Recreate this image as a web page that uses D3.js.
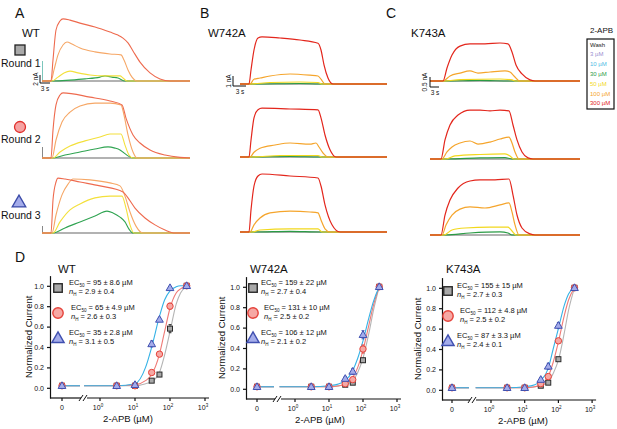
<!DOCTYPE html>
<html>
<head>
<meta charset="utf-8">
<script src="https://cdn.jsdelivr.net/npm/d3@7"></script>
<style>
body{margin:0;background:#fff}
svg{display:block;font-family:Arial,"Liberation Sans",sans-serif}
</style>
</head>
<body>
<svg id="fig" width="617" height="429"></svg>
<script>

/// Current traces, [time (s), current (nA)]

var wtRound1 = {
	c300: [[0,0],[2.7,0],[3.3,7],[4.2,17],[5.4,20],[6.3,20.7],[8.4,20.3],[11.4,19.3],[15.9,18],[20.4,16.3],[22.8,15.3],[24.3,14.3],[25.8,12.7],[27.3,10],[29.4,6.3],[32.4,2.7],[35.4,0.7],[38.4,0],[44.4,0]],
	c100: [[0,0],[2.7,0],[3.6,3.7],[4.8,8.7],[6.3,12],[7.5,13],[9,12.3],[11.4,11],[15.9,9.7],[20.4,9],[23.7,8.7],[24.6,7],[25.8,3.7],[27,1.3],[28.5,0],[44.4,0]],
	c50:  [[0,0],[3,0],[4.8,1.3],[6.6,2.7],[8.4,3.3],[10.8,2.7],[14.4,2],[18.9,1.7],[23.4,1.7],[24.3,1],[25.5,0],[44.4,0]],
	c30:  [[0,0],[3.6,0],[8.4,0.3],[12.9,0.7],[17.4,1.3],[18.9,1.7],[21,1.3],[22.8,1],[24.9,0],[44.4,0]]
};
var wtRound2 = {
	c300: [[0,0],[2.7,0],[3.3,9.3],[4.2,17.7],[5.4,21],[6.3,21.7],[14.4,20.3],[20.4,19],[24,17.7],[25.2,13.3],[27.3,7.7],[29.4,5],[32.4,2.7],[36.9,1],[41.4,0.2],[44.4,0]],
	c100: [[0,0],[3,0],[4.2,6],[6,12],[8.4,15.3],[11.4,17.3],[15.9,18.3],[20.4,18.3],[23.7,17.7],[24.6,14.3],[25.8,7.7],[27.3,2],[28.5,0],[44.4,0]],
	c50:  [[0,0],[3.3,0],[5.4,2],[8.4,4],[12.9,5.7],[17.4,7],[20.4,8],[23.7,8],[24.9,4.3],[26.1,1],[27.3,0],[44.4,0]],
	c30:  [[0,0],[3.3,0],[6.9,1],[11.4,2],[15.9,3],[19.8,3.7],[21.9,3.3],[23.4,2.7],[24.6,1.7],[25.8,0.7],[27.3,0],[44.4,0]]
};
var wtRound3 = {
	c300: [[0,0],[2.7,0],[3.3,11],[4.2,17],[4.8,18.3],[6.9,18],[11.4,17],[17.4,15.7],[24.3,13.7],[25.8,11.7],[27.9,8.3],[30.9,5],[33.9,2.7],[36.9,1],[39.9,0],[44.4,0]],
	c100: [[0,0],[3,0],[4.2,6],[6,12.7],[7.8,16.3],[9.3,18],[14.4,17.7],[20.4,16.7],[23.4,15.7],[24.9,12.3],[26.4,7],[28.2,2.3],[30.3,0],[44.4,0]],
	c50:  [[0,0],[3.3,0],[5.4,3.7],[8.4,7.7],[11.4,9.7],[15.9,11.7],[20.4,12.3],[24,12.3],[25.2,8.3],[26.4,2.7],[27.6,0],[44.4,0]],
	c30:  [[0,0],[3.3,0],[6.9,1.7],[11.4,3.7],[15.9,5.7],[19.5,7.3],[21.3,6.7],[23.4,5.3],[24.9,3.7],[26.1,1.3],[27.3,0],[44.4,0]]
};

var w742Round1 = {
	c300: [[0,0],[2.7,0],[3.3,1.75],[4.2,4.25],[5.4,5.75],[6.6,5.9],[12,5.75],[18,5.5],[23.4,5.1],[24.3,4.25],[25.2,2.4],[26.4,0.75],[27.9,0],[44.1,0]],
	c100: [[0,0],[3,0],[4.2,0.6],[6,0.75],[9,1],[15,1.25],[21,1.1],[23.4,1],[24.3,0.6],[25.5,0],[44.1,0]],
	c50:  [[0,0],[3,0],[9,0.19],[18,0.25],[23.4,0.19],[24.6,0],[44.1,0]],
	c30:  [[0,0],[4.5,0],[18,0.06],[24,0],[44.1,0]]
};
var w742Round2 = {
	c300: [[0,0],[2.7,0],[3.3,2.1],[4.2,4.9],[5.4,5.9],[6.6,6.1],[15,6],[23.4,5.9],[24.3,4.9],[25.5,2.75],[27,0.9],[28.8,0],[44.1,0]],
	c100: [[0,0],[3,0],[4.2,0.6],[6,1.1],[10.5,1.5],[15,1.75],[21,1.6],[22.8,1.75],[23.7,1.25],[24.9,0.5],[26.4,0],[44.1,0]],
	c50:  [[0,0],[3.6,0],[12,0.19],[23.4,0.19],[24.6,0],[44.1,0]],
	c30:  [[0,0],[4.5,0],[15,0.06],[24,0],[44.1,0]]
};
var w742Round3 = {
	c300: [[0,0],[2.7,0],[3.3,2.75],[4.2,5.75],[5.4,7],[6.6,7.25],[15,7],[23.4,6.75],[24.3,5.75],[25.5,3.4],[27.6,0.9],[30,0],[44.1,0]],
	c100: [[0,0],[3,0],[4.2,0.9],[6,1.75],[9,2.4],[15,2.6],[21,2.5],[23.4,2.4],[24.3,1.5],[25.5,0.4],[27,0],[44.1,0]],
	c50:  [[0,0],[3.6,0],[6,0.25],[15,0.4],[23.4,0.4],[24.6,0],[44.1,0]],
	c30:  [[0,0],[4.5,0],[15,0.08],[24,0],[44.1,0]]
};

var k743Round1 = {
	c300: [[0,0],[3.9,0],[5.1,0.72],[6.6,1.44],[9,1.94],[12,2.06],[16.5,2.06],[21,2.11],[23.4,2.06],[24.6,1.61],[25.8,0.89],[27.6,0.39],[30,0.06],[31.5,0],[45,0]],
	c100: [[0,0],[3.9,0],[6,0.28],[9,0.44],[12,0.56],[14.4,0.44],[18,0.5],[22.5,0.56],[24,0.5],[25.2,0.28],[27,0],[45,0]],
	c50:  [[0,0],[4.5,0],[9,0.08],[21,0.11],[24.6,0.06],[25.8,0],[45,0]],
	c30:  [[0,0],[4.5,0],[15,0.03],[24,0],[45,0]]
};
var k743Round2 = {
	c300: [[0,0],[3.3,0],[4.5,1.06],[6,1.89],[8.4,2.44],[12,2.72],[15,2.72],[18,2.67],[21,2.72],[23.7,2.67],[24.9,1.89],[26.1,1.06],[27.6,0.39],[29.4,0.06],[30.9,0],[45,0]],
	c100: [[0,0],[3.6,0],[5.1,0.39],[6.6,0.67],[9,0.89],[12,1],[14.4,0.83],[18,0.94],[21,1.11],[23.7,1.22],[24.6,0.89],[25.5,0.39],[26.7,0],[45,0]],
	c50:  [[0,0],[4.5,0],[7.5,0.17],[15,0.25],[22.5,0.28],[24,0.17],[25.2,0],[45,0]],
	c30:  [[0,0],[5.1,0],[15,0.06],[22.5,0.08],[24.6,0],[45,0]]
};
var k743Round3 = {
	c300: [[0,0],[3.3,0],[4.5,1.11],[6,1.94],[8.4,2.61],[12,3],[15,3.06],[19.5,3.06],[23.7,3.11],[24.9,2.22],[26.1,1.11],[27.6,0.39],[30,0.06],[31.5,0],[45,0]],
	c100: [[0,0],[3.6,0],[4.8,0.56],[6.6,1.11],[9,1.44],[12,1.56],[16.5,1.5],[21,1.67],[23.7,1.78],[24.6,1.28],[25.5,0.56],[26.7,0],[45,0]],
	c50:  [[0,0],[4.2,0],[6.6,0.28],[10.5,0.39],[18,0.44],[23.4,0.44],[24.6,0.22],[25.8,0],[45,0]],
	c30:  [[0,0],[4.8,0],[12,0.11],[21,0.17],[23.4,0.11],[24.6,0],[45,0]]
};

var legendLabels = ["Wash", "3 \u00b5M", "10 \u00b5M", "30 \u00b5M", "50 \u00b5M", "100 \u00b5M", "300 \u00b5M"];
var legendColors = ["#222222", "#9a8fd0", "#4dbbe4", "#2a9b45", "#f2d81c", "#f5a52c", "#e3261c"];


/// Dose-response data

var concs = [0, 3, 10, 30, 50, 100, 300];
var fitConcs = [0.35, 1, 3, 10, 20, 30, 50, 70, 100, 150, 200, 300];

var wtSquare   = [0.02, 0.02, 0.02, 0.07, 0.13, 0.58, 1.0];
var wtCircle   = [0.02, 0.02, 0.02, 0.15, 0.33, 0.80, 1.0];
var wtTriangle = [0.02, 0.02, 0.03, 0.43, 0.67, 0.98, 1.0];
var wtSquareErr   = [0, 0, 0, 0.01, 0.02, 0.04, 0];
var wtCircleErr   = [0, 0, 0, 0.02, 0.02, 0.03, 0];
var wtTriangleErr = [0, 0, 0.01, 0.03, 0.02, 0.01, 0];
var wtFitSquare   = [0.02, 0.02, 0.02, 0.02, 0.04, 0.06, 0.15, 0.32, 0.55, 0.82, 0.93, 0.99];
var wtFitCircle   = [0.02, 0.02, 0.02, 0.03, 0.07, 0.13, 0.33, 0.55, 0.78, 0.93, 0.97, 1.0];
var wtFitTriangle = [0.02, 0.02, 0.02, 0.04, 0.20, 0.40, 0.70, 0.86, 0.95, 0.99, 1.0, 1.0];
var wtStats = [["95 \u00b1 8.6", "2.9 \u00b1 0.4"], ["65 \u00b1 4.9", "2.6 \u00b1 0.3"], ["35 \u00b1 2.8", "3.1 \u00b1 0.5"]];

var w742Square   = [0.02, 0.02, 0.02, 0.04, 0.06, 0.28, 1.0];
var w742Circle   = [0.02, 0.02, 0.02, 0.05, 0.09, 0.39, 1.0];
var w742Triangle = [0.02, 0.02, 0.02, 0.10, 0.17, 0.53, 1.0];
var w742SquareErr   = [0, 0, 0, 0.01, 0.01, 0.02, 0];
var w742CircleErr   = [0, 0, 0, 0.01, 0.02, 0.04, 0];
var w742TriangleErr = [0, 0, 0, 0.02, 0.03, 0.04, 0];
var w742FitSquare   = [0.02, 0.02, 0.02, 0.02, 0.03, 0.04, 0.08, 0.16, 0.30, 0.55, 0.76, 1.0];
var w742FitCircle   = [0.02, 0.02, 0.02, 0.02, 0.03, 0.05, 0.11, 0.21, 0.38, 0.63, 0.81, 1.0];
var w742FitTriangle = [0.02, 0.02, 0.02, 0.03, 0.05, 0.08, 0.18, 0.30, 0.47, 0.70, 0.85, 1.0];
var w742Stats = [["159 \u00b1 22", "2.7 \u00b1 0.4"], ["131 \u00b1 10", "2.5 \u00b1 0.2"], ["106 \u00b1 12", "2.1 \u00b1 0.2"]];

var k743Square   = [0.02, 0.02, 0.02, 0.04, 0.07, 0.30, 1.0];
var k743Circle   = [0.02, 0.02, 0.02, 0.06, 0.13, 0.48, 1.0];
var k743Triangle = [0.02, 0.02, 0.02, 0.10, 0.23, 0.63, 1.0];
var k743SquareErr   = [0, 0, 0, 0.01, 0.01, 0.01, 0];
var k743CircleErr   = [0, 0, 0, 0.01, 0.02, 0.02, 0];
var k743TriangleErr = [0, 0, 0, 0.02, 0.03, 0.03, 0];
var k743FitSquare   = [0.02, 0.02, 0.02, 0.02, 0.03, 0.04, 0.08, 0.16, 0.29, 0.56, 0.78, 1.0];
var k743FitCircle   = [0.02, 0.02, 0.02, 0.02, 0.03, 0.05, 0.13, 0.27, 0.47, 0.73, 0.88, 1.0];
var k743FitTriangle = [0.02, 0.02, 0.02, 0.03, 0.05, 0.09, 0.21, 0.40, 0.60, 0.83, 0.94, 1.0];
var k743Stats = [["155 \u00b1 15", "2.7 \u00b1 0.3"], ["112 \u00b1 4.8", "2.5 \u00b1 0.2"], ["87 \u00b1 3.3", "2.4 \u00b1 0.1"]];

var xTickExps = [0, 1, 2, 3];
var yTicks = [0, 0.2, 0.4, 0.6, 0.8, 1.0];


var svg = d3.select("#fig");

function txt(x, y, s, size, anchor){
	return svg.append("text").attr("x", x).attr("y", y).attr("font-size", size)
		.attr("text-anchor", anchor || "start").attr("fill", "#111").text(s);
}


/// Panel letters and row labels

txt(15, 18, "A", 14);
txt(200, 18, "B", 14);
txt(386, 18, "C", 14);
txt(22, 37, "WT", 11.5);
txt(208, 37, "W742A", 11.5);
txt(411, 37, "K743A", 11.5);

svg.append("rect").attr("x", 15).attr("y", 45).attr("width", 10).attr("height", 10)
	.attr("fill", "#a9a9a9").attr("stroke", "#222").attr("stroke-width", 1.3);
txt(1, 67, "Round 1", 10.5);
svg.append("circle").attr("cx", 20).attr("cy", 127).attr("r", 5.5)
	.attr("fill", "#f5a3a3").attr("stroke", "#e0302c").attr("stroke-width", 1.3);
txt(1, 143, "Round 2", 10.5);
svg.append("path").attr("d", d3.symbol(d3.symbolTriangle, 80)()).attr("transform", "translate(19,203)")
	.attr("fill", "#a4acea").attr("stroke", "#3a4aa8").attr("stroke-width", 1.3);
txt(1, 219, "Round 3", 10.5);


/// Traces

function drawTraces(rows, x0, width, tEnd, pxPerNA, baselines, cols, sw){
	var x = d3.scaleLinear().domain([0, tEnd]).range([x0, x0 + width]);
	rows.forEach(function(row, i){
		var base = baselines[i];
		var y = d3.scaleLinear().domain([0, 1]).range([base, base - pxPerNA]);
		var line = d3.line().x(function(d){return x(d[0]);}).y(function(d){return y(d[1]);}).curve(d3.curveMonotoneX);
		var flat = [[0,0],[tEnd,0]];
		svg.append("path").attr("d", line(flat)).attr("fill", "none").attr("stroke", "#666").attr("stroke-width", 1.2);
		[["c30", cols[3]], ["c50", cols[4]], ["c100", cols[5]], ["c300", cols[6]]].forEach(function(k){
			svg.append("path").attr("d", line(row[k[0]])).attr("fill", "none")
				.attr("stroke", k[1]).attr("stroke-width", sw);
		});
	});
}

var colsA = ["#222", "#9a8fd0", "#4dbbe4", "#30a452", "#f3e03c", "#f6a766", "#ee6a4e"];
var colsBC = ["#222", "#9a8fd0", "#4dbbe4", "#2a9b45", "#f2d81c", "#f5a52c", "#e3261c"];

// small stubs at trace start
svg.append("line").attr("x1", 42.5).attr("x2", 42.5).attr("y1", 61).attr("y2", 81).attr("stroke", "#7cc6bb").attr("stroke-width", 1);
svg.append("line").attr("x1", 42.5).attr("x2", 42.5).attr("y1", 147).attr("y2", 158).attr("stroke", "#888").attr("stroke-width", 1);
svg.append("line").attr("x1", 42.5).attr("x2", 42.5).attr("y1", 226).attr("y2", 233).attr("stroke", "#888").attr("stroke-width", 1);

drawTraces([wtRound1, wtRound2, wtRound3], 42, 148, 44.4, 3, [81, 158, 233], colsA, 1.1);
drawTraces([w742Round1, w742Round2, w742Round3], 240, 147, 44.1, 8, [84, 157, 232], colsBC, 1.2);
drawTraces([k743Round1, k743Round2, k743Round3], 430, 150, 45, 18, [81, 159, 235], colsBC, 1.2);

// scale bars
function scaleBar(x, yTop, yBot, xEnd, label, lx, tx, ty){
	svg.append("path").attr("d", "M" + x + "," + yTop + "V" + yBot + "H" + xEnd)
		.attr("fill", "none").attr("stroke", "#111").attr("stroke-width", 1);
	svg.append("text").attr("transform", "translate(" + lx + "," + ((yTop + yBot) / 2) + ") rotate(-90)")
		.attr("text-anchor", "middle").attr("font-size", 6.5).attr("fill", "#111").text(label);
	txt(tx, ty, "3 s", 6.5, "middle");
}
scaleBar(40, 75, 83, 50, "2 nA", 38, 45, 91);
scaleBar(233, 76, 86, 246, "1 nA", 231, 240, 94);
scaleBar(430, 77, 87, 439, "0.5 nA", 427, 435, 95);

// legend
txt(590, 33, "2-APB", 8);
svg.append("rect").attr("x", 587).attr("y", 39).attr("width", 27).attr("height", 70)
	.attr("fill", "none").attr("stroke", "#111").attr("stroke-width", 1.2);
legendLabels.forEach(function(l, i){
	svg.append("text").attr("x", 590).attr("y", 46.5 + i * 9.8).attr("font-size", 6)
		.attr("fill", legendColors[i]).text(l);
});


/// Dose-response panels

txt(15, 262, "D", 14);

var markColors = {
	sq: {fill: "#a9a9a9", stroke: "#2a2a2a", fit: "#b4b4b4"},
	ci: {fill: "#f6a8a4", stroke: "#e5423a", fit: "#ef7a76"},
	tr: {fill: "#a4acea", stroke: "#4050b0", fit: "#35b2e6"}
};

function marker(g, kind, cx, cy, big){
	var c = markColors[kind];
	var sw = big ? 1.4 : 1;
	if(kind == "sq"){
		var s = big ? 8.5 : 5;
		g.append("rect").attr("x", cx - s/2).attr("y", cy - s/2).attr("width", s).attr("height", s)
			.attr("fill", c.fill).attr("stroke", c.stroke).attr("stroke-width", sw);
	}
	else if(kind == "ci"){
		g.append("circle").attr("cx", cx).attr("cy", cy).attr("r", big ? 5.2 : 3.2)
			.attr("fill", c.fill).attr("stroke", c.stroke).attr("stroke-width", sw);
	}
	else{
		g.append("path").attr("d", d3.symbol(d3.symbolTriangle, big ? 65 : 26)())
			.attr("transform", "translate(" + cx + "," + (cy + (big ? 1 : 0.5)) + ")")
			.attr("fill", c.fill).attr("stroke", c.stroke).attr("stroke-width", sw);
	}
}

function drawDose(p){
	var g = svg.append("g");
	var y = d3.scaleLinear().domain([-0.1, 1.1]).range([p.axisY, p.axisY - 122.4]);
	var xl = d3.scaleLog().domain([1, 1000]).range([p.x1, p.x1 + 3 * p.decade]);
	var xp = function(c){ return c == 0 ? p.xZero : xl(c); };
	var axisEnd = p.x1 + 3 * p.decade + 4;

	// y axis
	var ya = g.append("g").attr("transform", "translate(" + p.yAxisX + ",0)")
		.call(d3.axisLeft(y).tickValues(yTicks).tickFormat(d3.format(".1f")).tickSize(3).tickSizeOuter(0));
	ya.selectAll("text").attr("font-size", 7).attr("fill", "#111");
	ya.selectAll("line, path").attr("stroke", "#111").attr("stroke-width", 1.2);
	ya.attr("font-family", null);

	// x axis with break
	g.append("line").attr("x1", p.yAxisX).attr("x2", p.breakX - 2).attr("y1", p.axisY).attr("y2", p.axisY)
		.attr("stroke", "#111").attr("stroke-width", 1.2);
	g.append("line").attr("x1", p.breakX + 4).attr("x2", axisEnd).attr("y1", p.axisY).attr("y2", p.axisY)
		.attr("stroke", "#111").attr("stroke-width", 1.2);
	[p.breakX - 2, p.breakX + 2].forEach(function(bx){
		g.append("line").attr("x1", bx - 2).attr("x2", bx + 2).attr("y1", p.axisY + 3).attr("y2", p.axisY - 3)
			.attr("stroke", "#111").attr("stroke-width", 1);
	});
	var tickXs = [p.xZero].concat(xTickExps.map(function(e){ return xl(Math.pow(10, e)); }));
	tickXs.forEach(function(tx){
		g.append("line").attr("x1", tx).attr("x2", tx).attr("y1", p.axisY).attr("y2", p.axisY + 3)
			.attr("stroke", "#111").attr("stroke-width", 1.2);
	});
	g.append("text").attr("x", p.xZero).attr("y", p.axisY + 12).attr("font-size", 7)
		.attr("text-anchor", "middle").attr("fill", "#111").text("0");
	xTickExps.forEach(function(e){
		var t = g.append("text").attr("x", xl(Math.pow(10, e)) - 2).attr("y", p.axisY + 12)
			.attr("font-size", 7).attr("text-anchor", "middle").attr("fill", "#111");
		t.append("tspan").text("10");
		t.append("tspan").attr("font-size", 4.5).attr("dy", -3).text(e);
	});

	// axis titles
	g.append("text").attr("x", p.titleCx).attr("y", p.axisY + 24).attr("font-size", 9.5)
		.attr("text-anchor", "middle").attr("fill", "#111").text("2-APB (\u00b5M)");
	g.append("text").attr("transform", "translate(" + p.yTitleX + "," + y(0.5) + ") rotate(-90)")
		.attr("font-size", 9.5).attr("text-anchor", "middle").attr("fill", "#111").text("Normalized Current");
	g.append("text").attr("x", p.nameX).attr("y", 273).attr("font-size", 11.5).attr("fill", "#111").text(p.name);

	// fit curves
	var fitLine = d3.line().x(function(d){ return xl(d[0]); }).y(function(d){ return y(d[1]); }).curve(d3.curveMonotoneX);
	[["sq", p.fits[0]], ["ci", p.fits[1]], ["tr", p.fits[2]]].forEach(function(f){
		g.append("line").attr("x1", p.xZero).attr("x2", p.breakX - 3).attr("y1", y(f[1][0])).attr("y2", y(f[1][0]))
			.attr("stroke", markColors[f[0]].fit).attr("stroke-width", 1.1);
		g.append("path").attr("d", fitLine(fitConcs.map(function(c, i){ return [c, f[1][i]]; })))
			.attr("fill", "none").attr("stroke", markColors[f[0]].fit).attr("stroke-width", 1.1);
	});

	// error bars and points
	[["sq", p.pts[0], p.errs[0]], ["ci", p.pts[1], p.errs[1]], ["tr", p.pts[2], p.errs[2]]].forEach(function(s){
		concs.forEach(function(c, i){
			if(s[2][i] > 0){
				var cx = xp(c);
				g.append("line").attr("x1", cx).attr("x2", cx).attr("y1", y(s[1][i] - s[2][i])).attr("y2", y(s[1][i] + s[2][i]))
					.attr("stroke", markColors[s[0]].stroke).attr("stroke-width", 0.9);
				[s[1][i] - s[2][i], s[1][i] + s[2][i]].forEach(function(v){
					g.append("line").attr("x1", cx - 1.5).attr("x2", cx + 1.5).attr("y1", y(v)).attr("y2", y(v))
						.attr("stroke", markColors[s[0]].stroke).attr("stroke-width", 0.9);
				});
			}
		});
	});
	["sq", "ci", "tr"].forEach(function(kind, k){
		concs.forEach(function(c, i){ marker(g, kind, xp(c), y(p.pts[k][i]), false); });
	});

	// legend with fit parameters
	["sq", "ci", "tr"].forEach(function(kind, k){
		marker(g, kind, p.legX, p.legY[k], true);
		var t1 = g.append("text").attr("x", p.textX[k]).attr("y", p.legY[k] - 3).attr("font-size", 7.5).attr("fill", "#111");
		t1.append("tspan").text("EC");
		t1.append("tspan").attr("font-size", 4.5).attr("dy", 1.5).text("50");
		t1.append("tspan").attr("dy", -1.5).text(" = " + p.stats[k][0] + " \u00b5M");
		var t2 = g.append("text").attr("x", p.textX[k]).attr("y", p.legY[k] + 6).attr("font-size", 7.5).attr("fill", "#111");
		t2.append("tspan").attr("font-style", "italic").text("n");
		t2.append("tspan").attr("font-size", 4.5).attr("dy", 1.5).text("H");
		t2.append("tspan").attr("dy", -1.5).text(" = " + p.stats[k][1]);
	});
}

drawDose({
	name: "WT", nameX: 58, yAxisX: 50, axisY: 398, xZero: 62, breakX: 83, x1: 100, decade: 35,
	titleCx: 128, yTitleX: 32, legX: 58, legY: [288, 313, 338], textX: [69, 71, 69],
	pts: [wtSquare, wtCircle, wtTriangle], errs: [wtSquareErr, wtCircleErr, wtTriangleErr],
	fits: [wtFitSquare, wtFitCircle, wtFitTriangle], stats: wtStats
});
drawDose({
	name: "W742A", nameX: 250, yAxisX: 246, axisY: 399, xZero: 257, breakX: 277, x1: 295, decade: 34,
	titleCx: 320, yTitleX: 225, legX: 253, legY: [288, 313, 338], textX: [261, 264, 261],
	pts: [w742Square, w742Circle, w742Triangle], errs: [w742SquareErr, w742CircleErr, w742TriangleErr],
	fits: [w742FitSquare, w742FitCircle, w742FitTriangle], stats: w742Stats
});
drawDose({
	name: "K743A", nameX: 446, yAxisX: 442, axisY: 400, xZero: 452, breakX: 472, x1: 491, decade: 33.7,
	titleCx: 523, yTitleX: 421, legX: 448, legY: [291, 316, 341], textX: [457, 460, 457],
	pts: [k743Square, k743Circle, k743Triangle], errs: [k743SquareErr, k743CircleErr, k743TriangleErr],
	fits: [k743FitSquare, k743FitCircle, k743FitTriangle], stats: k743Stats
});

</script>
</body>
</html>
